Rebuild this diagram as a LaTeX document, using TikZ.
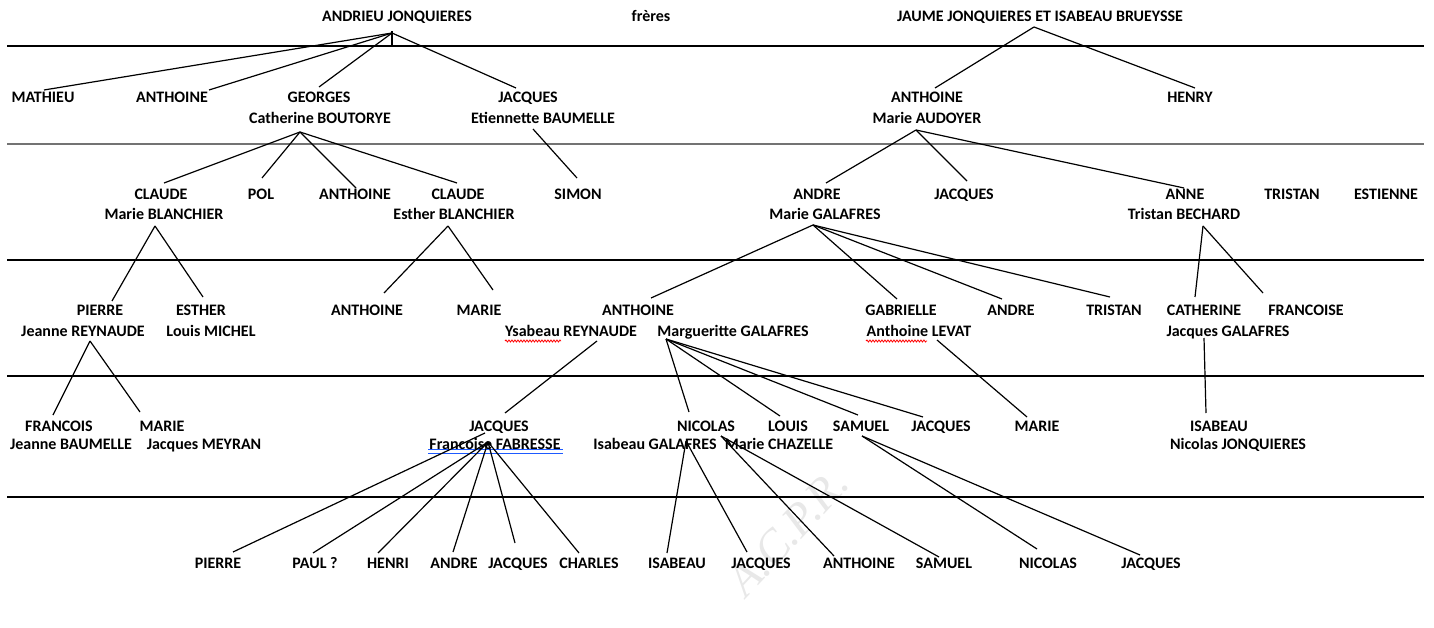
\documentclass[tikz,border=0pt]{standalone}
\usepackage{fontspec}
\setmainfont{Carlito}
\newfontfamily\wmfont{Liberation Serif}
\usetikzlibrary{decorations.pathmorphing}
\definecolor{ulblue}{RGB}{30,90,255}
\begin{document}
\begin{tikzpicture}[x=1pt,y=-1pt,
  lbl/.style={anchor=base, inner sep=0pt, font=\fontsize{16}{19}\selectfont\bfseries},
  rule/.style={line width=1.5pt, black},
  grayrule/.style={line width=2.4pt, black!55},
  link/.style={line width=1.2pt, black},
  spell/.style={red, line width=0.8pt, decorate, decoration={snake, amplitude=1pt, segment length=3pt}},
  blueul/.style={line width=1.3pt, ulblue}]
\useasboundingbox (0,0) rectangle (1434,628);
% watermark
\node[text=black!9, font=\wmfont\itshape\fontsize{46}{46}\selectfont, rotate=47] (wm) at (788,532) {A.C.P.R.};
% horizontal rules
\coordinate (r1a) at (7,46);   \coordinate (r1b) at (1424,46);
\coordinate (r2a) at (7,144);  \coordinate (r2b) at (1424,144);
\coordinate (r3a) at (7,260);  \coordinate (r3b) at (1424,260);
\coordinate (r4a) at (7,376);  \coordinate (r4b) at (1424,376);
\coordinate (r5a) at (7,497);  \coordinate (r5b) at (1424,497);
\draw[rule] (r1a) -- (r1b);
\draw[grayrule] (r2a) -- (r2b);
\draw[rule] (r3a) -- (r3b);
\draw[rule] (r4a) -- (r4b);
\draw[rule] (r5a) -- (r5b);
% row 0
\node[lbl] (andrieu) at (397,22) {ANDRIEU JONQUIERES};
\node[lbl] (freres) at (651,22) {frères};
\node[lbl] (jaume) at (1040,22) {JAUME JONQUIERES ET ISABEAU BRUEYSSE};
% row 1
\node[lbl] (mathieu) at (43,103) {MATHIEU};
\node[lbl] (anthA) at (172,103) {ANTHOINE};
\node[lbl] (georges) at (319,103) {GEORGES};
\node[lbl] (cathb) at (320,124) {Catherine BOUTORYE};
\node[lbl] (jacqA) at (528,103) {JACQUES};
\node[lbl] (etien) at (543,124) {Etiennette BAUMELLE};
\node[lbl] (anthB) at (927,103) {ANTHOINE};
\node[lbl] (maud) at (927,124) {Marie AUDOYER};
\node[lbl] (henry) at (1190,103) {HENRY};
% row 2
\node[lbl] (claudeA) at (161,200) {CLAUDE};
\node[lbl] (mblan) at (164,220) {Marie BLANCHIER};
\node[lbl] (pol) at (261,200) {POL};
\node[lbl] (anthC) at (355,200) {ANTHOINE};
\node[lbl] (claudeB) at (458,200) {CLAUDE};
\node[lbl] (eblan) at (454,220) {Esther BLANCHIER};
\node[lbl] (simon) at (578,200) {SIMON};
\node[lbl] (andreA) at (817,200) {ANDRE};
\node[lbl] (mgal) at (825,220) {Marie GALAFRES};
\node[lbl] (jacqB) at (964,200) {JACQUES};
\node[lbl] (anne) at (1185,200) {ANNE};
\node[lbl] (tbech) at (1184,220) {Tristan BECHARD};
\node[lbl] (tristanA) at (1292,200) {TRISTAN};
\node[lbl] (estienne) at (1386,200) {ESTIENNE};
% row 3
\node[lbl] (pierreA) at (100,315) {PIERRE};
\node[lbl] (jreyn) at (83,336) {Jeanne REYNAUDE};
\node[lbl] (esther) at (201,315) {ESTHER};
\node[lbl] (lmich) at (211,336) {Louis MICHEL};
\node[lbl] (anthD) at (367,315) {ANTHOINE};
\node[lbl] (marieA) at (479,315) {MARIE};
\node[lbl] (anthE) at (638,315) {ANTHOINE};
\node[lbl] (yreyn) at (571,336) {Ysabeau REYNAUDE};
\node[lbl] (mgalB) at (733,336) {Margueritte GALAFRES};
\node[lbl] (gabr) at (901,315) {GABRIELLE};
\node[lbl] (alev) at (919,336) {Anthoine LEVAT};
\node[lbl] (andreB) at (1011,315) {ANDRE};
\node[lbl] (tristanB) at (1114,315) {TRISTAN};
\node[lbl] (cath) at (1204,315) {CATHERINE};
\node[lbl] (jgal) at (1228,336) {Jacques GALAFRES};
\node[lbl] (franc) at (1306,315) {FRANCOISE};
% row 4
\node[lbl] (francois) at (59,431) {FRANCOIS};
\node[lbl] (jbaum) at (71,449) {Jeanne BAUMELLE};
\node[lbl] (marieB) at (162,431) {MARIE};
\node[lbl] (jmey) at (204,449) {Jacques MEYRAN};
\node[lbl] (jacqC) at (499,431) {JACQUES};
\node[lbl] (ffab) at (495,449) {Francoise FABRESSE};
\node[lbl] (nicolasA) at (706,431) {NICOLAS};
\node[lbl] (igal) at (655,449) {Isabeau GALAFRES};
\node[lbl] (louis) at (788,431) {LOUIS};
\node[lbl] (mchaz) at (779,449) {Marie CHAZELLE};
\node[lbl] (samuelA) at (861,431) {SAMUEL};
\node[lbl] (jacqD) at (941,431) {JACQUES};
\node[lbl] (marieC) at (1037,431) {MARIE};
\node[lbl] (isabA) at (1219,431) {ISABEAU};
\node[lbl] (njon) at (1238,449) {Nicolas JONQUIERES};
% row 5
\node[lbl] (pierreB) at (218,568) {PIERRE};
\node[lbl] (paul) at (315,568) {PAUL ?};
\node[lbl] (henri) at (388,568) {HENRI};
\node[lbl] (andreC) at (454,568) {ANDRE};
\node[lbl] (jacqE) at (518,568) {JACQUES};
\node[lbl] (charles) at (589,568) {CHARLES};
\node[lbl] (isabB) at (677,568) {ISABEAU};
\node[lbl] (jacqF) at (761,568) {JACQUES};
\node[lbl] (anthF) at (859,568) {ANTHOINE};
\node[lbl] (samuelB) at (944,568) {SAMUEL};
\node[lbl] (nicolasB) at (1048,568) {NICOLAS};
\node[lbl] (jacqG) at (1151,568) {JACQUES};
% spell-check and link underlines
\coordinate (ys1) at (505,341); \coordinate (ys2) at (561,341);
\draw[spell] (ys1) -- (ys2);
\coordinate (an1) at (866,341); \coordinate (an2) at (927,341);
\draw[spell] (an1) -- (an2);
\coordinate (ff1) at (428,449.5); \coordinate (ff2) at (563,449.5);
\coordinate (ff3) at (428,453.5); \coordinate (ff4) at (563,453.5);
\draw[blueul] (ff1) -- (ff2);
\draw[blueul] (ff3) -- (ff4);
% junctions and connector ends
\coordinate (jAndrieu) at (392,33);
\coordinate (tickT) at (392,31); \coordinate (tickB) at (392,47);
\coordinate (eMathieu) at (44,90);
\coordinate (eAnthA) at (209,90);
\coordinate (eGeorges) at (319,87);
\coordinate (eJacqA) at (516,88);
\draw[link] (tickT) -- (tickB);
\draw[link] (jAndrieu) -- (eMathieu);
\draw[link] (jAndrieu) -- (eAnthA);
\draw[link] (jAndrieu) -- (eGeorges);
\draw[link] (jAndrieu) -- (eJacqA);
\coordinate (jJaume) at (1034,27);
\coordinate (eAnthB) at (935,88);
\coordinate (eHenry) at (1195,88);
\draw[link] (jJaume) -- (eAnthB);
\draw[link] (jJaume) -- (eHenry);
\coordinate (jCathb) at (300,132);
\coordinate (eClaudeA) at (164,183);
\coordinate (ePol) at (262,178);
\coordinate (eAnthC) at (356,188);
\coordinate (eClaudeB) at (457,183);
\draw[link] (jCathb) -- (eClaudeA);
\draw[link] (jCathb) -- (ePol);
\draw[link] (jCathb) -- (eAnthC);
\draw[link] (jCathb) -- (eClaudeB);
\coordinate (jEtien) at (533,129);
\coordinate (eSimon) at (577,178);
\draw[link] (jEtien) -- (eSimon);
\coordinate (jMaud) at (916,130);
\coordinate (eAndreA) at (826,183);
\coordinate (eJacqB) at (967,181);
\coordinate (eAnne) at (1184,188);
\draw[link] (jMaud) -- (eAndreA);
\draw[link] (jMaud) -- (eJacqB);
\draw[link] (jMaud) -- (eAnne);
\coordinate (jMblan) at (155,226);
\coordinate (ePierreA) at (112,301);
\coordinate (eEsther) at (203,297);
\draw[link] (jMblan) -- (ePierreA);
\draw[link] (jMblan) -- (eEsther);
\coordinate (jEblan) at (448,226);
\coordinate (eAnthD) at (384,293);
\coordinate (eMarieA) at (493,290);
\draw[link] (jEblan) -- (eAnthD);
\draw[link] (jEblan) -- (eMarieA);
\coordinate (jMgal) at (813,225);
\coordinate (eAnthE) at (651,298);
\coordinate (eGabr) at (897,299);
\coordinate (eAndreB) at (1002,299);
\coordinate (eTristanB) at (1110,297);
\draw[link] (jMgal) -- (eAnthE);
\draw[link] (jMgal) -- (eGabr);
\draw[link] (jMgal) -- (eAndreB);
\draw[link] (jMgal) -- (eTristanB);
\coordinate (jTbech) at (1203,226);
\coordinate (eCath) at (1195,297);
\coordinate (eFranc) at (1263,293);
\draw[link] (jTbech) -- (eCath);
\draw[link] (jTbech) -- (eFranc);
\coordinate (jJreyn) at (90,341);
\coordinate (eFrancois) at (53,415);
\coordinate (eMarieB) at (140,412);
\draw[link] (jJreyn) -- (eFrancois);
\draw[link] (jJreyn) -- (eMarieB);
\coordinate (jYreyn) at (597,341);
\coordinate (eJacqC) at (505,413);
\draw[link] (jYreyn) -- (eJacqC);
\coordinate (jMgalB) at (666,339);
\coordinate (eNicolasA) at (689,412);
\coordinate (eLouis) at (780,416);
\coordinate (eSamuelA) at (858,415);
\coordinate (eJacqD) at (923,417);
\draw[link] (jMgalB) -- (eNicolasA);
\draw[link] (jMgalB) -- (eLouis);
\draw[link] (jMgalB) -- (eSamuelA);
\draw[link] (jMgalB) -- (eJacqD);
\coordinate (jAlev) at (937,340);
\coordinate (eMarieC) at (1027,417);
\draw[link] (jAlev) -- (eMarieC);
\coordinate (jJgal) at (1204,338);
\coordinate (eIsabA) at (1206,413);
\draw[link] (jJgal) -- (eIsabA);
\coordinate (jJacqC) at (485,433);
\coordinate (jFfab) at (488,442);
\coordinate (ePierreB) at (233,552);
\coordinate (ePaul) at (313,553);
\coordinate (eHenri) at (378,553);
\coordinate (eAndreC) at (453,552);
\coordinate (eJacqE) at (515,543);
\coordinate (eCharles) at (579,553);
\draw[link] (jJacqC) -- (ePierreB);
\draw[link] (jFfab) -- (ePaul);
\draw[link] (jFfab) -- (eHenri);
\draw[link] (jFfab) -- (eAndreC);
\draw[link] (jFfab) -- (eJacqE);
\draw[link] (jFfab) -- (eCharles);
\coordinate (jNic) at (686,441);
\coordinate (eIsabB) at (667,553);
\coordinate (eJacqF) at (747,552);
\draw[link] (jNic) -- (eIsabB);
\draw[link] (jNic) -- (eJacqF);
\coordinate (jMchaz) at (721,436);
\coordinate (eAnthF) at (834,556);
\coordinate (eSamuelB) at (939,557);
\draw[link] (jMchaz) -- (eAnthF);
\draw[link] (jMchaz) -- (eSamuelB);
\coordinate (jSam) at (862,436);
\coordinate (eNicolasB) at (1037,549);
\coordinate (eJacqG) at (1140,555);
\draw[link] (jSam) -- (eNicolasB);
\draw[link] (jSam) -- (eJacqG);
\end{tikzpicture}
\end{document}
